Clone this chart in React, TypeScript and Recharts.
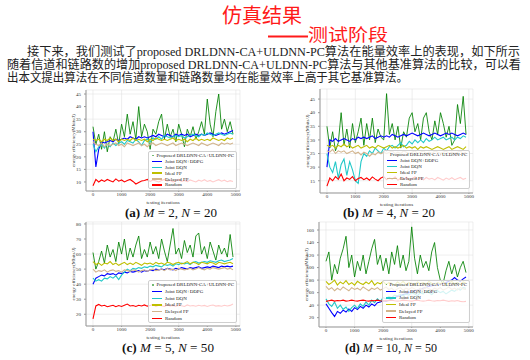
import React from 'react';
import { LineChart, Line, XAxis, YAxis, CartesianGrid, Legend } from 'recharts';

const iterations = [
  0, 100, 200, 300, 400, 500, 600, 700, 800, 900,
  1000, 1100, 1200, 1300, 1400, 1500, 1600, 1700, 1800, 1900,
  2000, 2100, 2200, 2300, 2400, 2500, 2600, 2700, 2800, 2900,
  3000, 3100, 3200, 3300, 3400, 3500, 3600, 3700, 3800, 3900,
  4000, 4100, 4200, 4300, 4400, 4500, 4600, 4700, 4800, 4900,
];
const xTicks = [0, 1000, 2000, 3000, 4000, 5000];

const seriesNames = ['Proposed DRLDNN-CA+ULDNN-PC', 'Joint DQN+DDPG', 'Joint DQN', 'Ideal FP', 'Delayed FP', 'Random'];
const seriesColors = ['#008000', '#0000ff', '#22c8c8', '#bfbf00', '#d2b48c', '#ff0000'];

// (a) M = 2, N = 20
const proposedA = [32, 25, 29, 23, 30, 22, 28, 26, 31, 25, 33, 28, 37, 29, 34, 27, 40, 28, 33, 30, 23, 31, 29, 34, 37, 27, 33, 28, 31, 26, 33, 29, 24, 31, 28, 32, 27, 30, 34, 29, 43, 33, 28, 38, 45, 31, 35, 30, 34, 29];
const ddpgA = [30, 16, 23, 26, 25.5, 26, 26.5, 26, 27, 26.5, 27, 27.5, 27, 28, 27.5, 27, 28, 27.5, 28, 27.5, 28, 28.5, 28, 29, 28.5, 28, 29, 28.5, 28, 29, 28.5, 29, 28.5, 29, 28, 28.5, 29, 28.5, 29, 28.5, 29, 29.5, 29, 28.5, 29, 29.5, 29, 29.5, 30, 30.5];
const dqnA = [25, 22, 24, 25, 23.5, 25, 24, 25.5, 24.5, 25.5, 26, 25, 26.5, 26, 25.5, 27, 26, 24.5, 26.5, 27, 26, 27.5, 27, 28, 27, 28.5, 28, 27.5, 28, 28.5, 28, 28.5, 27.5, 28, 28.5, 29, 28.5, 28, 29, 28.5, 29.5, 29, 28.5, 29, 29.5, 29, 28.5, 29, 29.5, 29];
const idealA = [27, 26.5, 27, 26, 27, 26.5, 27.5, 26.5, 27, 26, 27, 26.5, 27, 26.5, 27.5, 26.5, 27, 26.5, 27, 26, 27, 26.5, 27.5, 27, 26.5, 27, 26.5, 27, 27.5, 26.5, 27, 26.5, 27, 26, 27, 26.5, 27.5, 26.5, 27, 26.5, 27, 26.5, 27.5, 27, 26.5, 27, 26.5, 27.5, 27, 27.5];
const delayedA = [26, 25, 24.5, 25.5, 24, 25, 24.5, 25, 25.5, 24.5, 25, 24, 25.5, 25, 24.5, 25, 25.5, 24.5, 25, 24, 25, 25.5, 24.5, 25, 25.5, 25, 24.5, 25, 25.5, 24.5, 25, 25.5, 25, 24.5, 25, 25.5, 25, 24.5, 25.5, 25, 24.5, 25, 25.5, 25, 24.5, 25.5, 25, 25.5, 25, 25.5];
const randomA = [8.5, 11, 10, 10.8, 10.2, 11, 10.5, 10, 11.2, 10.3, 10.8, 10, 10.6, 11, 10.2, 9.2, 9.8, 10.4, 10.6, 11, 10.2, 10.8, 10.4, 10, 10.6, 11, 10.3, 10.7, 10, 10.5, 11, 10.2, 10.6, 10.1, 10.8, 10.4, 10, 10.7, 10.3, 10.9, 10.2, 10.6, 10, 10.5, 10.9, 10.3, 10.7, 10.1, 10.5, 10.2];

// (b) M = 4, N = 20
const proposedB = [35, 27, 33, 26, 29, 40, 28, 34, 27, 36, 29, 33, 38, 28, 36, 30, 38, 29, 34, 31, 30, 47, 32, 36, 30, 35, 27, 33, 31, 38, 40, 33, 36, 30, 38, 40, 33, 30, 37, 32, 40, 36, 31, 35, 28, 30, 43, 36, 46, 32];
const ddpgB = [20, 30, 29.5, 30.5, 29.5, 30, 30.5, 30, 29.5, 30.5, 30, 31, 30.5, 31, 30.5, 31, 31.5, 30.5, 31, 31.5, 31, 31.5, 31, 32, 31.5, 31, 31.5, 32, 31.5, 32, 32.5, 32, 31.5, 32, 32.5, 32, 31.5, 32, 32.5, 32, 31.5, 32, 32.5, 32, 32.5, 32, 31.5, 32, 32.5, 32];
const dqnB = [25, 20, 18, 22, 16, 21, 23, 17, 22, 19, 15, 14, 22, 25, 24, 26, 25, 27, 26, 25, 27, 26, 27.5, 28, 27, 28, 29, 27.5, 28, 29.5, 28.5, 30, 29, 30, 29, 30.5, 29.5, 30, 31, 30, 30.5, 31, 30, 30.5, 31, 30, 31, 30.5, 31.5, 31];
const idealB = [28, 27.5, 28, 27, 28, 27.5, 28.5, 27.5, 28, 27, 27.5, 28, 27, 27.5, 28, 27, 27.5, 27, 28, 27.5, 27, 27.5, 28, 27, 27.5, 27, 27.5, 28, 27, 27.5, 27, 27.5, 26.5, 27.5, 27, 27.5, 27, 26.5, 27, 27.5, 27, 26.5, 27, 27.5, 26.5, 27, 27.5, 27, 26.5, 27.5];
const delayedB = [26, 25.5, 26.5, 25, 26, 25.5, 26, 25, 25.5, 26, 25, 25.5, 24.5, 25.5, 25, 24, 25, 24.5, 25.5, 25, 25.5, 25, 25.5, 26, 25, 25.5, 25, 26, 25.5, 25, 25.5, 26, 25, 25.5, 26, 25, 25.5, 25, 26, 25.5, 25, 25.5, 26, 25, 25.5, 25, 25.5, 26, 25, 25.5];
const randomB = [13, 16, 15, 16.5, 15.5, 17.5, 15, 16, 15.5, 16.5, 15, 15.8, 16.2, 15.4, 16, 15.2, 16.4, 15.6, 15, 16, 16.5, 15.4, 16, 15.6, 16.4, 15.2, 16, 15.5, 16.3, 15.2, 15.8, 16.4, 15.5, 16, 15.3, 16.2, 15.6, 15.9, 15.3, 16.2, 15.7, 15.2, 16, 15.5, 16.1, 15.4, 15.8, 16.2, 15.5, 15.9];

// (c) M = 5, N = 50
const proposedC = [61, 50, 55, 62, 54, 66, 58, 63, 55, 68, 60, 70, 56, 64, 58, 66, 72, 57, 63, 58, 68, 60, 65, 57, 70, 62, 55, 66, 77, 60, 64, 57, 69, 61, 66, 58, 72, 74, 60, 65, 57, 68, 62, 56, 66, 60, 64, 58, 73, 58];
const ddpgC = [40, 44, 45, 46, 45.5, 47, 46.5, 47, 46, 47.5, 47, 48, 47.5, 48.5, 48, 48.5, 49, 48, 49, 48.5, 49.5, 49, 50, 49.5, 50, 49.5, 50.5, 50, 49.5, 50.5, 50, 51, 50.5, 50, 51, 50.5, 51, 51.5, 50.5, 51, 51.5, 51, 52, 51.5, 51, 52, 51.5, 52, 51.5, 52];
const dqnC = [44, 42, 43, 42, 44, 43.5, 45, 44, 45.5, 43, 46, 48, 50, 49, 50.5, 50, 51, 50.5, 51.5, 51, 52, 51.5, 52.5, 52, 51.5, 53, 52.5, 53, 52, 53.5, 53, 54, 53.5, 54, 53, 54.5, 55, 54, 54.5, 55, 54.5, 55.5, 55, 54.5, 55.5, 56, 55, 55.5, 56, 57];
const idealC = [55, 53, 54, 52.5, 54, 53.5, 55, 53, 54, 52.5, 53.5, 54.5, 53, 54, 53, 54.5, 53.5, 52.5, 54, 53.5, 54, 53, 54.5, 53.5, 54, 53, 54.5, 54, 53, 54, 54.5, 53.5, 54, 55, 53.5, 54.5, 54, 53, 54.5, 54, 53.5, 54.5, 54, 53, 54.5, 54, 53.5, 54, 54.5, 53.5];
const delayedC = [50, 48, 49, 48.5, 49.5, 48, 49, 49.5, 48.5, 49, 48, 49.5, 49, 48.5, 49.5, 49, 48, 49, 49.5, 48.5, 49.5, 50, 49, 49.5, 50, 49, 50.5, 49.5, 50, 49, 50.5, 50, 49.5, 50, 50.5, 49.5, 50, 51, 50, 49.5, 50.5, 50, 51, 50.5, 50, 50.5, 51, 50, 50.5, 49.5];
const randomC = [17, 25.5, 26.5, 25.5, 26, 25, 25.5, 26, 25, 25.8, 25.2, 26, 26.8, 25.5, 25.8, 25.2, 26, 25.5, 26.2, 25.4, 25.8, 26.5, 25.3, 26, 25.6, 25.2, 26.1, 25.5, 25.9, 25.3, 26, 25.6, 25.2, 26.2, 25.5, 25.8, 25.3, 26, 25.5, 25.9, 25.2, 25.8, 26.1, 25.4, 25.7, 25.3, 26, 25.5, 25.9, 26.8];

// (d) M = 10, N = 50
const proposedD = [110, 125, 80, 105, 90, 115, 130, 150, 100, 120, 85, 110, 95, 120, 90, 110, 130, 145, 105, 120, 95, 115, 90, 125, 105, 135, 100, 120, 95, 110, 165, 115, 90, 120, 100, 110, 95, 125, 140, 100, 80, 75, 95, 110, 90, 105, 85, 100, 110, 92];
const ddpgD = [42, 35, 28, 22, 30, 27, 32, 29, 34, 30, 36, 33, 38, 35, 40, 37, 42, 39, 44, 45, 47, 46, 48, 50, 52, 54, 55, 57, 58, 60, 62, 63, 64, 66, 67, 68, 70, 71, 72, 73, 74, 75, 76, 78, 80, 84, 80, 78, 82, 85];
const dqnD = [50, 42, 38, 45, 35, 40, 33, 37, 30, 36, 40, 35, 42, 38, 45, 40, 48, 44, 50, 46, 52, 50, 54, 52, 56, 55, 57, 55, 58, 56, 60, 58, 55, 60, 58, 62, 60, 57, 61, 63, 60, 62, 58, 61, 64, 62, 66, 64, 68, 67];
const idealD = [78, 73, 76, 80, 72, 77, 74, 79, 73, 76, 72, 78, 75, 73, 77, 74, 79, 72, 76, 74, 78, 73, 76, 75, 72, 77, 74, 78, 73, 76, 75, 72, 77, 74, 76, 73, 78, 75, 72, 76, 74, 77, 73, 75, 78, 74, 76, 73, 77, 75];
const delayedD = [70, 65, 68, 63, 67, 64, 69, 66, 63, 68, 65, 67, 64, 69, 66, 63, 67, 65, 68, 64, 66, 69, 65, 67, 63, 66, 68, 64, 67, 65, 68, 66, 63, 67, 65, 69, 66, 64, 67, 65, 68, 64, 66, 69, 65, 67, 64, 68, 66, 65];
const randomD = [46, 47, 48, 46.5, 47.5, 47, 48, 46.5, 47, 48, 47, 46.5, 47.5, 48, 47, 46.5, 47.5, 47, 48, 47, 46.5, 47.5, 47, 48, 47, 46.5, 47, 48, 47.5, 47, 46.5, 47.5, 48, 47, 46.5, 47, 48, 47, 46.5, 47.5, 47, 48, 47, 46, 47, 46.5, 47.5, 46, 45.5, 46];

const keys = ['s0', 's1', 's2', 's3', 's4', 's5'];

const makeRows = (series: number[][]) =>
  iterations.map((it, i) => {
    const row: any = { it };
    series.forEach((s, k) => (row[keys[k]] = s[i]));
    return row;
  });

const panels = [
  {
    rows: makeRows([proposedA, ddpgA, dqnA, idealA, delayedA, randomA]),
    plot: { l: 86, t: 90, r: 240, b: 191 },
    yDomain: [6.4, 46.6],
    yTicks: [10, 15, 20, 25, 30, 35, 40, 45],
    legend: { l: 148, t: 151, w: 89, row: 5.9 },
  },
  {
    rows: makeRows([proposedB, ddpgB, dqnB, idealB, delayedB, randomB]),
    plot: { l: 320, t: 89, r: 473, b: 193 },
    yDomain: [10.5, 48.7],
    yTicks: [15, 20, 25, 30, 35, 40, 45],
    legend: { l: 383, t: 150, w: 87, row: 6 },
  },
  {
    rows: makeRows([proposedC, ddpgC, dqnC, idealC, delayedC, randomC]),
    plot: { l: 86, t: 222, r: 240, b: 326 },
    yDomain: [12.2, 81.3],
    yTicks: [20, 30, 40, 50, 60, 70, 80],
    legend: { l: 148, t: 280, w: 89, row: 6.7 },
  },
  {
    rows: makeRows([proposedD, ddpgD, dqnD, idealD, delayedD, randomD]),
    plot: { l: 319, t: 222, r: 473, b: 327 },
    yDomain: [5.1, 172.8],
    yTicks: [20, 40, 60, 80, 100, 120, 140, 160],
    legend: { l: 382, t: 280, w: 88, row: 6.6 },
  },
];

const serif = '"Liberation Serif", "Times New Roman", serif';
const tickStyle = { fontSize: 5, fill: '#333', fontFamily: serif };

const YW = 26;
const XH = 16;

function Panel({ p }: { p: any }) {
  const left = p.plot.l - YW;
  const top = p.plot.t - 5;
  const width = p.plot.r - left + 5;
  const height = p.plot.b - top + XH;
  const lg = p.legend;
  return (
    <div style={{ position: 'absolute', left, top, width, height }}>
      <LineChart width={width} height={height} data={p.rows} margin={{ top: 5, right: 5, left: 0, bottom: 0 }}>
        <CartesianGrid stroke="#e3e3e3" strokeWidth={0.6} />
        <XAxis
          dataKey="it"
          type="number"
          domain={[-245, 5145]}
          ticks={xTicks}
          allowDataOverflow
          height={XH}
          tick={tickStyle}
          tickSize={1}
          tickMargin={0}
          stroke="#999"
          label={{ value: 'testing iterations', position: 'insideBottom', offset: 3, fontSize: 5, fill: '#333', fontFamily: serif }}
        />
        <XAxis xAxisId="top" orientation="top" dataKey="it" type="number" domain={[-245, 5145]} height={0} tick={false} tickLine={false} stroke="#999" />
        <YAxis
          type="number"
          domain={p.yDomain}
          ticks={p.yTicks}
          allowDataOverflow
          width={YW}
          tick={tickStyle}
          tickSize={2}
          tickMargin={3}
          stroke="#999"
          label={{ value: 'energy efficiency(Mbits/J)', angle: -90, position: 'center', fontSize: 5, fill: '#333', fontFamily: serif }}
        />
        <YAxis yAxisId="right" orientation="right" width={0} tick={false} tickLine={false} stroke="#999" />
        {keys.map((k, i) => (
          <Line
            key={k}
            dataKey={k}
            name={seriesNames[i]}
            stroke={seriesColors[i]}
            strokeWidth={i === 0 ? 1 : 1.1}
            strokeOpacity={i === 0 ? 0.85 : 1}
            dot={false}
            isAnimationActive={false}
          />
        ))}
        <Legend
          layout="horizontal"
          verticalAlign="middle"
          align="center"
          wrapperStyle={{ left: lg.l - left, top: lg.t - top, width: lg.w, height: 'auto' }}
          content={() => (
            <div
              style={{
                background: 'rgba(255,255,255,0.8)',
                border: '0.6px solid #cfcfcf',
                borderRadius: 2,
                padding: '0.5px 2px 0.5px 3px',
                fontFamily: serif,
                fontSize: 5,
                color: '#222',
              }}
            >
              {seriesNames.map((n, i) => (
                <div key={n} style={{ display: 'flex', alignItems: 'center', height: lg.row, whiteSpace: 'nowrap' }}>
                  <span style={{ display: 'inline-block', width: 10, height: 1.4, background: seriesColors[i], opacity: i === 0 ? 0.55 : 1, marginRight: 3 }} />
                  <span>{n}</span>
                </div>
              ))}
            </div>
          )}
        />
      </LineChart>
    </div>
  );
}

const cjk = '"Liberation Serif", "Noto Sans CJK SC", serif';

function Caption({ x, y, tag, m, n }: { x: number; y: number; tag: string; m: string; n: string }) {
  return (
    <text x={x} y={y} fontSize={11.5} fontFamily={serif} fill="#111" dominantBaseline="central" textLength={92} lengthAdjust="spacingAndGlyphs">
      <tspan fontWeight="bold">({tag})</tspan>
      <tspan fontStyle="italic"> M</tspan>
      <tspan> = {m}, </tspan>
      <tspan fontStyle="italic">N</tspan>
      <tspan> = {n}</tspan>
    </text>
  );
}

export default function App() {
  return (
    <div style={{ position: 'fixed', left: 0, top: 0, width: 530, height: 360, background: '#fff', overflow: 'hidden' }}>
      <svg width={530} height={360} style={{ position: 'absolute', left: 0, top: 0 }}>
        <text x={222} y={14} fontSize={20} fill="#ff1a1a" fontFamily='"Noto Sans CJK SC", sans-serif' dominantBaseline="central" textLength={80} lengthAdjust="spacingAndGlyphs">仿真结果</text>
        <line x1={268} x2={308} y1={36.5} y2={36.5} stroke="#ff1a1a" strokeWidth={2} />
        <text x={308} y={33} fontSize={17} fill="#ff1a1a" fontFamily='"Noto Sans CJK SC", sans-serif' dominantBaseline="central" textLength={80} lengthAdjust="spacingAndGlyphs">测试阶段</text>
        <text x={27} y={52} fontSize={12} fill="#222" fontFamily={cjk} dominantBaseline="central" textLength={493} lengthAdjust="spacingAndGlyphs">
          接下来，我们测试了proposed DRLDNN-CA+ULDNN-PC算法在能量效率上的表现，如下所示
        </text>
        <text x={7} y={65} fontSize={12} fill="#222" fontFamily={cjk} dominantBaseline="central" textLength={514} lengthAdjust="spacingAndGlyphs">
          随着信道和链路数的增加proposed DRLDNN-CA+ULDNN-PC算法与其他基准算法的比较，可以看
        </text>
        <text x={7} y={78} fontSize={12} fill="#222" fontFamily={cjk} dominantBaseline="central" textLength={401} lengthAdjust="spacingAndGlyphs">
          出本文提出算法在不同信道数量和链路数量均在能量效率上高于其它基准算法。
        </text>
        <Caption x={125} y={213} tag="a" m="2" n="20" />
        <Caption x={343} y={213} tag="b" m="4" n="20" />
        <Caption x={122} y={348} tag="c" m="5" n="50" />
        <Caption x={345} y={348} tag="d" m="10" n="50" />
      </svg>
      {panels.map((p, i) => (
        <Panel key={i} p={p} />
      ))}
    </div>
  );
}
